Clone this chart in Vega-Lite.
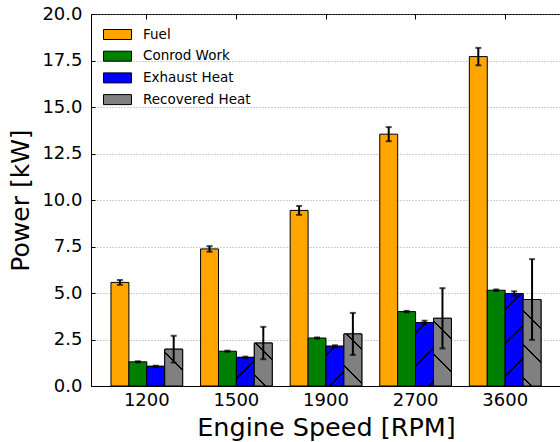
{
  "$schema": "https://vega.github.io/schema/vega-lite/v6.json",
  "autosize": "none",
  "padding": {"left": 91, "top": 14, "right": 0, "bottom": 56},
  "width": 470,
  "height": 372,
  "config": {
    "font": "DejaVu Sans",
    "view": {"stroke": "#000000", "strokeWidth": 1},
    "axis": {"labelFont": "DejaVu Sans", "titleFont": "DejaVu Sans", "labelColor": "#000000", "titleColor": "#000000", "titleFontWeight": "normal"},
    "legend": {"labelFont": "DejaVu Sans"}
  },
  "data": {
    "values": [
      {"rpm": "1200", "kind": "Fuel", "power": 5.57, "err": 0.13},
      {"rpm": "1500", "kind": "Fuel", "power": 7.37, "err": 0.15},
      {"rpm": "1900", "kind": "Fuel", "power": 9.44, "err": 0.24},
      {"rpm": "2700", "kind": "Fuel", "power": 13.54, "err": 0.38},
      {"rpm": "3600", "kind": "Fuel", "power": 17.71, "err": 0.47},
      {"rpm": "1200", "kind": "Conrod Work", "power": 1.3, "err": 0.03},
      {"rpm": "1500", "kind": "Conrod Work", "power": 1.87, "err": 0.03},
      {"rpm": "1900", "kind": "Conrod Work", "power": 2.58, "err": 0.03},
      {"rpm": "2700", "kind": "Conrod Work", "power": 4.0, "err": 0.04},
      {"rpm": "3600", "kind": "Conrod Work", "power": 5.15, "err": 0.04},
      {"rpm": "1200", "kind": "Exhaust Heat", "power": 1.06, "err": 0.03},
      {"rpm": "1500", "kind": "Exhaust Heat", "power": 1.54, "err": 0.04},
      {"rpm": "1900", "kind": "Exhaust Heat", "power": 2.14, "err": 0.05},
      {"rpm": "2700", "kind": "Exhaust Heat", "power": 3.41, "err": 0.1},
      {"rpm": "3600", "kind": "Exhaust Heat", "power": 4.97, "err": 0.12},
      {"rpm": "1200", "kind": "Recovered Heat", "power": 1.98, "err": 0.72},
      {"rpm": "1500", "kind": "Recovered Heat", "power": 2.31, "err": 0.87},
      {"rpm": "1900", "kind": "Recovered Heat", "power": 2.8, "err": 1.13},
      {"rpm": "2700", "kind": "Recovered Heat", "power": 3.64, "err": 1.62},
      {"rpm": "3600", "kind": "Recovered Heat", "power": 4.65, "err": 2.17}
    ]
  },
  "encoding": {
    "x": {
      "field": "rpm", "type": "nominal",
      "scale": {"paddingInner": 0.2, "paddingOuter": 0.223},
      "axis": {"title": "Engine Speed [RPM]", "labelAngle": 0, "labelFontSize": 18, "titleFontSize": 25.5, "ticks": false, "labelPadding": 5, "titlePadding": 6, "domainColor": "#000000", "grid": false}
    },
    "xOffset": {
      "field": "kind", "type": "nominal",
      "sort": ["Fuel", "Conrod Work", "Exhaust Heat", "Recovered Heat"],
      "scale": {"paddingInner": 0, "paddingOuter": 0}
    },
    "y": {
      "field": "power", "type": "quantitative",
      "scale": {"domain": [0, 20], "nice": false},
      "axis": {
        "title": "Power [kW]", "values": [0, 2.5, 5, 7.5, 10, 12.5, 15, 17.5, 20], "format": ".1f",
        "labelFontSize": 18, "titleFontSize": 25, "ticks": true, "tickSize": -4, "tickColor": "#000000", "labelPadding": 13, "titlePadding": 8,
        "domainColor": "#000000", "gridColor": "#888888", "gridDash": [1, 2], "gridWidth": 0.8
      }
    }
  },
  "layer": [
    {
      "layer": [
        {
          "mark": {"type": "bar", "stroke": "#000000", "strokeWidth": 1},
          "encoding": {
            "color": {
              "field": "kind", "type": "nominal",
              "sort": ["Fuel", "Conrod Work", "Exhaust Heat", "Recovered Heat"],
              "scale": {"domain": ["Fuel", "Conrod Work", "Exhaust Heat", "Recovered Heat"], "range": ["#FFA500", "#008000", "#0000FF", "#808080"]},
              "legend": {
                "title": null, "orient": "none", "legendX": 16, "legendY": 10, "padding": 0,
                "symbolType": "M-1.4,-0.5H1.4V0.5H-1.4Z", "symbolSize": 400,
                "symbolStrokeColor": "#000000", "symbolStrokeWidth": 1, "symbolOpacity": 1,
                "labelFontSize": 13.5, "labelColor": "#000000", "labelOffset": 15, "rowPadding": 3.7
              }
            }
          }
        },
        {
          "transform": [{"filter": "datum.kind === 'Exhaust Heat' && datum.rpm === '1200'"}],
          "mark": {"type": "bar", "stroke": "#000000", "strokeWidth": 1, "fill": {"gradient": "linear", "x1": 0, "y1": 0, "x2": 0.95, "y2": 1.0454, "stops": [{"offset": 0, "color": "#0000FF"}, {"offset": 0.024, "color": "#0000FF"}, {"offset": 0.024, "color": "#000000"}, {"offset": 0.078, "color": "#000000"}, {"offset": 0.078, "color": "#0000FF"}, {"offset": 0.909, "color": "#0000FF"}, {"offset": 0.909, "color": "#000000"}, {"offset": 0.963, "color": "#000000"}, {"offset": 0.963, "color": "#0000FF"}, {"offset": 1, "color": "#0000FF"}]}}
        },
        {
          "transform": [{"filter": "datum.kind === 'Exhaust Heat' && datum.rpm === '1500'"}],
          "mark": {"type": "bar", "stroke": "#000000", "strokeWidth": 1, "fill": {"gradient": "linear", "x1": 0, "y1": 0, "x2": 0.7311, "y2": 1.1685, "stops": [{"offset": 0, "color": "#0000FF"}, {"offset": 0.4345, "color": "#0000FF"}, {"offset": 0.4345, "color": "#000000"}, {"offset": 0.4775, "color": "#000000"}, {"offset": 0.4775, "color": "#0000FF"}, {"offset": 1, "color": "#0000FF"}]}}
        },
        {
          "transform": [{"filter": "datum.kind === 'Exhaust Heat' && datum.rpm === '1900'"}],
          "mark": {"type": "bar", "stroke": "#000000", "strokeWidth": 1, "fill": {"gradient": "linear", "x1": 0, "y1": 0, "x2": 0.5429, "y2": 1.2059, "stops": [{"offset": 0, "color": "#0000FF"}, {"offset": 0.1477, "color": "#0000FF"}, {"offset": 0.1477, "color": "#000000"}, {"offset": 0.1823, "color": "#000000"}, {"offset": 0.1823, "color": "#0000FF"}, {"offset": 0.7247, "color": "#0000FF"}, {"offset": 0.7247, "color": "#000000"}, {"offset": 0.7593, "color": "#000000"}, {"offset": 0.7593, "color": "#0000FF"}, {"offset": 1, "color": "#0000FF"}]}}
        },
        {
          "transform": [{"filter": "datum.kind === 'Exhaust Heat' && datum.rpm === '2700'"}],
          "mark": {"type": "bar", "stroke": "#000000", "strokeWidth": 1, "fill": {"gradient": "linear", "x1": 0, "y1": 0, "x2": 0.3356, "y2": 1.1877, "stops": [{"offset": 0, "color": "#0000FF"}, {"offset": 0.1127, "color": "#0000FF"}, {"offset": 0.1127, "color": "#000000"}, {"offset": 0.1373, "color": "#000000"}, {"offset": 0.1373, "color": "#0000FF"}, {"offset": 0.5227, "color": "#0000FF"}, {"offset": 0.5227, "color": "#000000"}, {"offset": 0.5473, "color": "#000000"}, {"offset": 0.5473, "color": "#0000FF"}, {"offset": 0.9317, "color": "#0000FF"}, {"offset": 0.9317, "color": "#000000"}, {"offset": 0.9563, "color": "#000000"}, {"offset": 0.9563, "color": "#0000FF"}, {"offset": 1, "color": "#0000FF"}]}}
        },
        {
          "transform": [{"filter": "datum.kind === 'Exhaust Heat' && datum.rpm === '3600'"}],
          "mark": {"type": "bar", "stroke": "#000000", "strokeWidth": 1, "fill": {"gradient": "linear", "x1": 0, "y1": 0, "x2": 0.2231, "y2": 1.1506, "stops": [{"offset": 0, "color": "#0000FF"}, {"offset": 0.1379, "color": "#0000FF"}, {"offset": 0.1379, "color": "#000000"}, {"offset": 0.1561, "color": "#000000"}, {"offset": 0.1561, "color": "#0000FF"}, {"offset": 0.4399, "color": "#0000FF"}, {"offset": 0.4399, "color": "#000000"}, {"offset": 0.4581, "color": "#000000"}, {"offset": 0.4581, "color": "#0000FF"}, {"offset": 0.7429, "color": "#0000FF"}, {"offset": 0.7429, "color": "#000000"}, {"offset": 0.7611, "color": "#000000"}, {"offset": 0.7611, "color": "#0000FF"}, {"offset": 1, "color": "#0000FF"}]}}
        },
        {
          "transform": [{"filter": "datum.kind === 'Recovered Heat' && datum.rpm === '1200'"}],
          "mark": {"type": "bar", "stroke": "#000000", "strokeWidth": 1, "fill": {"gradient": "linear", "x1": 0, "y1": 1, "x2": 0.5849, "y2": -0.2021, "stops": [{"offset": 0, "color": "#808080"}, {"offset": 0.5957, "color": "#808080"}, {"offset": 0.5957, "color": "#000000"}, {"offset": 0.6323, "color": "#000000"}, {"offset": 0.6323, "color": "#808080"}, {"offset": 1, "color": "#808080"}]}}
        },
        {
          "transform": [{"filter": "datum.kind === 'Recovered Heat' && datum.rpm === '1500'"}],
          "mark": {"type": "bar", "stroke": "#000000", "strokeWidth": 1, "fill": {"gradient": "linear", "x1": 0, "y1": 1, "x2": 0.5034, "y2": -0.2071, "stops": [{"offset": 0, "color": "#808080"}, {"offset": 0.1596, "color": "#808080"}, {"offset": 0.1596, "color": "#000000"}, {"offset": 0.1924, "color": "#000000"}, {"offset": 0.1924, "color": "#808080"}, {"offset": 0.7066, "color": "#808080"}, {"offset": 0.7066, "color": "#000000"}, {"offset": 0.7394, "color": "#000000"}, {"offset": 0.7394, "color": "#808080"}, {"offset": 1, "color": "#808080"}]}}
        },
        {
          "transform": [{"filter": "datum.kind === 'Recovered Heat' && datum.rpm === '1900'"}],
          "mark": {"type": "bar", "stroke": "#000000", "strokeWidth": 1, "fill": {"gradient": "linear", "x1": 0, "y1": 1, "x2": 0.4135, "y2": -0.2018, "stops": [{"offset": 0, "color": "#808080"}, {"offset": 0.2867, "color": "#808080"}, {"offset": 0.2867, "color": "#000000"}, {"offset": 0.3153, "color": "#000000"}, {"offset": 0.3153, "color": "#808080"}, {"offset": 0.7637, "color": "#808080"}, {"offset": 0.7637, "color": "#000000"}, {"offset": 0.7923, "color": "#000000"}, {"offset": 0.7923, "color": "#808080"}, {"offset": 1, "color": "#808080"}]}}
        },
        {
          "transform": [{"filter": "datum.kind === 'Recovered Heat' && datum.rpm === '2700'"}],
          "mark": {"type": "bar", "stroke": "#000000", "strokeWidth": 1, "fill": {"gradient": "linear", "x1": 0, "y1": 1, "x2": 0.3128, "y2": -0.1819, "stops": [{"offset": 0, "color": "#808080"}, {"offset": 0.3563, "color": "#808080"}, {"offset": 0.3563, "color": "#000000"}, {"offset": 0.3797, "color": "#000000"}, {"offset": 0.3797, "color": "#808080"}, {"offset": 0.7453, "color": "#808080"}, {"offset": 0.7453, "color": "#000000"}, {"offset": 0.7687, "color": "#000000"}, {"offset": 0.7687, "color": "#808080"}, {"offset": 1, "color": "#808080"}]}}
        },
        {
          "transform": [{"filter": "datum.kind === 'Recovered Heat' && datum.rpm === '3600'"}],
          "mark": {"type": "bar", "stroke": "#000000", "strokeWidth": 1, "fill": {"gradient": "linear", "x1": 0, "y1": 1, "x2": 0.2398, "y2": -0.1575, "stops": [{"offset": 0, "color": "#808080"}, {"offset": 0.0724, "color": "#808080"}, {"offset": 0.0724, "color": "#000000"}, {"offset": 0.0916, "color": "#000000"}, {"offset": 0.0916, "color": "#808080"}, {"offset": 0.3914, "color": "#808080"}, {"offset": 0.3914, "color": "#000000"}, {"offset": 0.4106, "color": "#000000"}, {"offset": 0.4106, "color": "#808080"}, {"offset": 0.7114, "color": "#808080"}, {"offset": 0.7114, "color": "#000000"}, {"offset": 0.7306, "color": "#000000"}, {"offset": 0.7306, "color": "#808080"}, {"offset": 1, "color": "#808080"}]}}
        },
        {
          "mark": {"type": "errorbar", "color": "#000000", "thickness": 2, "ticks": {"size": 6, "thickness": 2, "color": "#000000"}},
          "encoding": {
            "yError": {"field": "err"}
          }
        }
      ]
    },
    {
      "mark": {"type": "bar", "opacity": 0},
      "encoding": {
        "x": {
          "field": "rpm", "type": "nominal",
          "axis": {"orient": "top", "title": null, "labels": false, "domain": false, "grid": false, "ticks": true, "tickSize": -5, "tickColor": "#000000"}
        }
      }
    }
  ],
  "resolve": {"axis": {"x": "independent"}}
}
